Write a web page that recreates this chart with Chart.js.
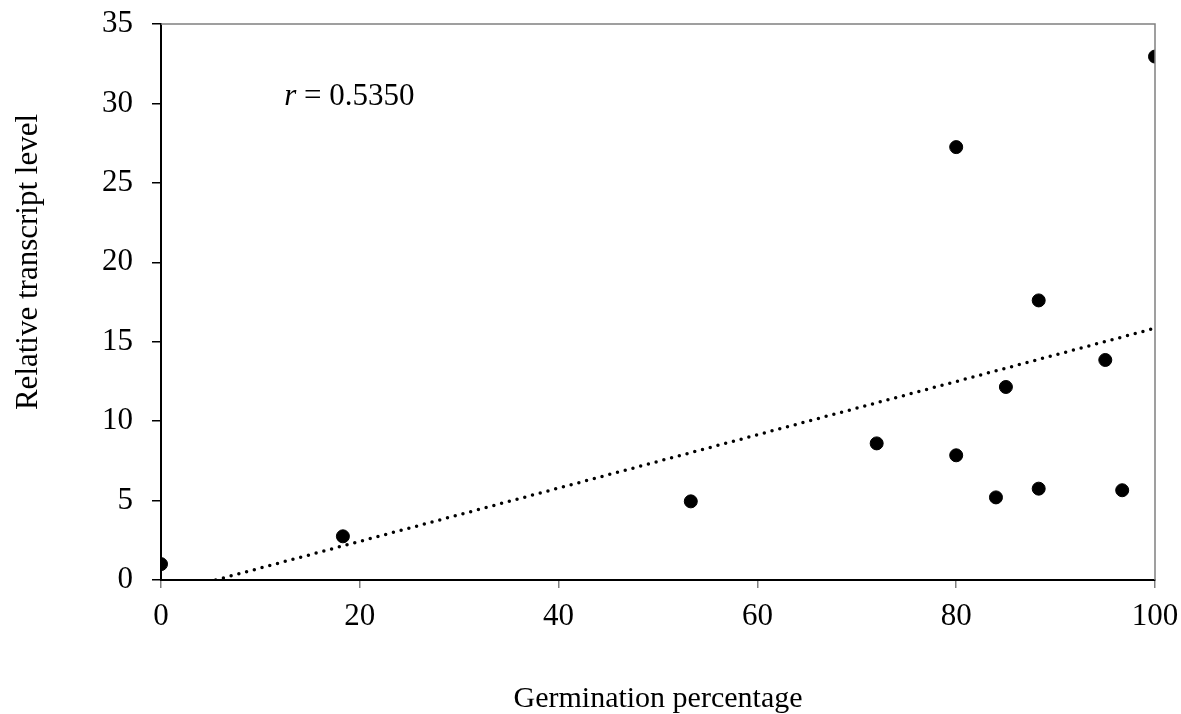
<!DOCTYPE html>
<html>
<head>
<meta charset="utf-8">
<script src="https://cdn.jsdelivr.net/npm/chart.js@4/dist/chart.umd.min.js"></script>
<style>
  html, body { margin: 0; padding: 0; background: #fff; }
  #wrap { width: 1181px; height: 714px; }
</style>
</head>
<body>
<div id="wrap"><canvas id="myChart" width="1181" height="714"></canvas></div>
<script>
// SCATTER: germination % vs relative transcript level

var germination = [0, 18.3, 53.3, 72, 80, 80, 84, 85, 88.3, 88.3, 95, 96.7, 100];
var transcript = [1.0, 2.75, 4.95, 8.6, 7.85, 27.25, 5.2, 12.15, 5.75, 17.6, 13.85, 5.65, 32.95];

// dotted trend line end points
var trendX = [5.5, 100];
var trendY = [0, 15.85];

var xTicks = [0, 20, 40, 60, 80, 100];
var yTicks = [0, 5, 10, 15, 20, 25, 30, 35];

var xTitle = 'Germination percentage';
var yTitle = 'Relative transcript level';

var serif = '"Liberation Serif", "Times New Roman", serif';

var points = germination.map(function (g, i) { return { x: g, y: transcript[i] }; });
var trend = trendX.map(function (t, i) { return { x: t, y: trendY[i] }; });

// top and right frame lines, axis titles and the r label
var framePlugin = {
    id: 'frame',
    afterDraw: function (chart) {
        var c = chart.ctx, a = chart.chartArea;
        c.save();
        c.strokeStyle = '#808080';
        c.lineWidth = 1.5;
        c.beginPath();
        c.moveTo(a.left, a.top);
        c.lineTo(a.right, a.top);
        c.lineTo(a.right, a.bottom);
        c.stroke();

        c.fillStyle = '#000';

        // r value
        var px = chart.scales.x.getPixelForValue(12.4);
        var py = chart.scales.y.getPixelForValue(30.4);
        c.textBaseline = 'middle';
        c.textAlign = 'left';
        c.font = 'italic 31px ' + serif;
        c.fillText('r', px, py);
        var w = c.measureText('r').width;
        c.font = '31px ' + serif;
        c.fillText(' = 0.5350', px + w, py);

        // x title
        c.textAlign = 'center';
        c.textBaseline = 'alphabetic';
        c.font = '30px ' + serif;
        c.fillText(xTitle, (a.left + a.right) / 2, 707);

        // y title (sits a little above the plot centre in the original)
        c.translate(37, 262);
        c.rotate(-Math.PI / 2);
        c.font = '31px ' + serif;
        c.fillText(yTitle, 0, 0);
        c.restore();
    }
};

var ctx = document.getElementById('myChart').getContext('2d');

var myChart = new Chart(ctx, {
    type: 'scatter',
    data: {
        datasets: [{
            data: points,
            backgroundColor: '#000',
            borderColor: '#000',
            pointRadius: 6.5,
            pointHoverRadius: 6.5,
            order: 1
        }, {
            type: 'line',
            data: trend,
            borderColor: '#000',
            borderWidth: 3.5,
            borderDash: [0, 8],
            borderCapStyle: 'round',
            pointRadius: 0,
            fill: false,
            order: 2
        }]
    },
    options: {
        responsive: false,
        animation: false,
        plugins: {
            legend: { display: false },
            tooltip: { enabled: false }
        },
        layout: {
            padding: { top: 24, right: 26, left: 0, bottom: 0 }
        },
        scales: {
            x: {
                type: 'linear',
                min: 0,
                max: 100,
                afterBuildTicks: function (s) { s.ticks = xTicks.map(function (v) { return { value: v }; }); },
                afterFit: function (s) { s.height = 134; s.paddingLeft = 0; s.paddingRight = 0; },
                ticks: { color: '#000', font: { family: serif, size: 31 }, padding: 10, maxRotation: 0 },
                grid: { drawOnChartArea: false, drawTicks: true, tickLength: 8, color: '#808080', lineWidth: 1.5 },
                border: { display: true, color: '#000', width: 2 }
            },
            y: {
                type: 'linear',
                min: 0,
                max: 35,
                afterBuildTicks: function (s) { s.ticks = yTicks.map(function (v) { return { value: v }; }); },
                afterFit: function (s) { s.width = 161; s.paddingTop = 0; s.paddingBottom = 0; },
                ticks: { color: '#000', font: { family: serif, size: 31 }, padding: 19 },
                grid: { drawOnChartArea: false, drawTicks: true, tickLength: 9, color: '#000', lineWidth: 1.5 },
                border: { display: true, color: '#000', width: 2 }
            }
        }
    },
    plugins: [framePlugin]
});
</script>
</body>
</html>
